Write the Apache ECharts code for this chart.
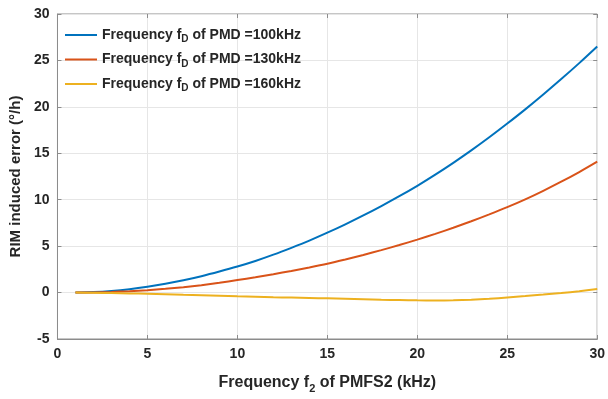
<!DOCTYPE html>
<html>
<head>
<meta charset="utf-8">
<script src="https://cdn.jsdelivr.net/npm/echarts@6/dist/echarts.min.js"></script>
<style>
  html, body { margin: 0; padding: 0; background: #fff; }
  #chart { width: 608px; height: 399px; }
</style>
</head>
<body>
<div id="chart"></div>
<script>
// f2 of PMFS2 (kHz)
const f2 = [1, 2, 3, 4, 5, 6, 7, 8, 9, 10, 11, 12, 13, 14, 15,
  16, 17, 18, 19, 20, 21, 22, 23, 24, 25, 26, 27, 28, 29, 30];

// RIM induced error (°/h)
const err100 = [0, 0.05, 0.17, 0.36, 0.62, 0.94, 1.32, 1.76, 2.26, 2.8, 3.4, 4.08, 4.82, 5.6, 6.45,
  7.35, 8.31, 9.32, 10.38, 11.5, 12.7, 13.97, 15.31, 16.72, 18.2, 19.73, 21.33, 22.99, 24.71, 26.5];
const err130 = [0, 0.02, 0.07, 0.15, 0.26, 0.4, 0.58, 0.8, 1.06, 1.35, 1.65, 1.98, 2.33, 2.7, 3.1,
  3.56, 4.05, 4.57, 5.12, 5.7, 6.32, 6.98, 7.68, 8.42, 9.2, 10.04, 10.96, 11.94, 12.98, 14.1];
const err160 = [0, -0.02, -0.05, -0.09, -0.13, -0.18, -0.23, -0.28, -0.34, -0.4, -0.45, -0.5, -0.54, -0.58, -0.62,
  -0.67, -0.72, -0.77, -0.81, -0.84, -0.85, -0.83, -0.77, -0.67, -0.53, -0.38, -0.22, -0.05, 0.15, 0.38];

const seriesNames = [
  'Frequency f_D of PMD =100kHz',
  'Frequency f_D of PMD =130kHz',
  'Frequency f_D of PMD =160kHz'
];
const seriesData = [err100, err130, err160];
const colors = ['#0072BD', '#D95319', '#EDB120'];

const font = '"Liberation Sans", Arial, sans-serif';
const textColor = '#262626';

const chart = echarts.init(document.getElementById('chart'));

const series = seriesNames.map((name, i) => ({
  name: name,
  type: 'line',
  smooth: 0.3,
  symbol: 'none',
  data: f2.map((x, j) => [x, seriesData[i][j]]),
  lineStyle: { width: 2, color: colors[i] },
  itemStyle: { color: colors[i] }
}));

const option = {
  animation: false,
  color: colors,
  grid: {
    left: 54, right: 7, top: 14, bottom: 52,
    show: true, borderColor: '#8c8c8c', borderWidth: 1, backgroundColor: '#fff'
  },
  legend: {
    orient: 'vertical',
    left: 60, top: 23,
    itemWidth: 32, itemHeight: 2,
    itemGap: 8,
    icon: 'rect',
    formatter: name => name.replace('f_D', 'f{sub|D}'),
    textStyle: {
      fontFamily: font, fontWeight: 'bold', fontSize: 14, color: textColor,
      rich: {
        sub: { fontFamily: font, fontWeight: 'bold', fontSize: 10, color: textColor, padding: [9, 0, 0, 0] }
      }
    }
  },
  xAxis: [{
    type: 'value', min: 0, max: 30, interval: 5,
    name: 'Frequency f{sub|2} of PMFS2 (kHz)',
    nameLocation: 'middle', nameGap: 32,
    nameTextStyle: {
      fontFamily: font, fontWeight: 'bold', fontSize: 16, color: textColor,
      rich: {
        sub: { fontFamily: font, fontWeight: 'bold', fontSize: 11, color: textColor, padding: [12, 0, 0, 0] }
      }
    },
    axisLine: { show: true, onZero: false, lineStyle: { color: '#8c8c8c' } },
    axisTick: { show: true, inside: true, length: 4, lineStyle: { color: '#8c8c8c' } },
    axisLabel: { fontFamily: font, fontWeight: 'bold', fontSize: 14, color: textColor, margin: 8 },
    splitLine: { show: true, lineStyle: { color: '#e6e6e6' } }
  }, {
    type: 'value', min: 0, max: 30, interval: 5, position: 'top',
    axisLine: { show: false, onZero: false },
    axisTick: { show: true, inside: true, length: 4, lineStyle: { color: '#8c8c8c' } },
    axisLabel: { show: false },
    splitLine: { show: false }
  }],
  yAxis: [{
    type: 'value', min: -5, max: 30, interval: 5,
    name: 'RIM induced error (°/h)',
    nameLocation: 'middle', nameGap: 31,
    nameTextStyle: { fontFamily: font, fontWeight: 'bold', fontSize: 15, color: textColor },
    axisLine: { show: true, onZero: false, lineStyle: { color: '#8c8c8c' } },
    axisTick: { show: true, inside: true, length: 4, lineStyle: { color: '#8c8c8c' } },
    axisLabel: { fontFamily: font, fontWeight: 'bold', fontSize: 14, color: textColor, margin: 8 },
    splitLine: { show: true, lineStyle: { color: '#e6e6e6' } }
  }, {
    type: 'value', min: -5, max: 30, interval: 5, position: 'right',
    axisLine: { show: false, onZero: false },
    axisTick: { show: true, inside: true, length: 4, lineStyle: { color: '#8c8c8c' } },
    axisLabel: { show: false },
    splitLine: { show: false }
  }],
  series: series
};

chart.setOption(option);
</script>
</body>
</html>
